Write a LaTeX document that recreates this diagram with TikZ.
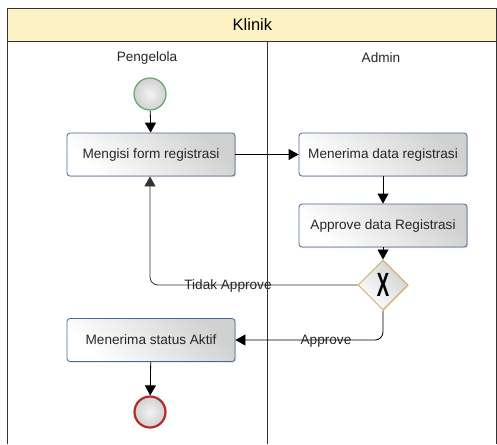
\documentclass[tikz,border=0pt]{standalone}
\usepackage{fontspec}
\setmainfont{Liberation Sans}
\usetikzlibrary{arrows.meta,shapes.geometric,shadows}
\definecolor{hdr}{HTML}{FCF2C4}
\definecolor{boxline}{HTML}{4A66A0}
\definecolor{gwline}{HTML}{D2AE6A}
\definecolor{startline}{HTML}{5DAA62}
\definecolor{endline}{HTML}{B52A2A}
\definecolor{frame}{HTML}{333333}
\tikzset{
  task/.style={draw=boxline, line width=0.8pt, rounded corners=3pt, minimum width=168pt, minimum height=43pt,
    left color=white, right color=black!18, shading angle=135, inner sep=0pt,
    drop shadow={shadow xshift=1.2pt, shadow yshift=-1.2pt, opacity=0.25},
    font=\fontsize{13.6}{15}\selectfont, text=black!85},
  evstart/.style={circle, draw=startline, line width=1.2pt, minimum size=32pt, inner sep=0pt,
    inner color=black!5, outer color=black!18},
  evend/.style={circle, draw=endline, line width=2.2pt, minimum size=31pt, inner sep=0pt,
    inner color=black!5, outer color=black!18},
  gw/.style={diamond, draw=gwline, line width=1pt, minimum width=50pt, minimum height=50pt, inner sep=0pt,
    left color=white, right color=black!18, shading angle=135,
    drop shadow={shadow xshift=1pt, shadow yshift=-1pt, opacity=0.2}},
  flow/.style={-{Triangle[width=11pt,length=10pt]}, line width=0.8pt, black},
  lbl/.style={font=\fontsize{13.6}{15}\selectfont, inner sep=0pt, text=black!85},
}
\begin{document}
\begin{tikzpicture}[x=1pt,y=-1pt]
\useasboundingbox (0,0) rectangle (497,444);
\fill[white] (0,0) rectangle (497,444);
% pool header
\node[draw=frame, fill=hdr, line width=0.8pt, minimum width=490pt, minimum height=33pt, anchor=north west, inner sep=0pt, font=\fontsize{16.5}{18}\selectfont] (pool) at (7,8) {Klinik};
\draw[frame, line width=0.8pt] (7,41) -- (7,444);
\draw[frame, line width=0.8pt] (496.6,8) -- (496.6,444);
\draw[frame, line width=0.8pt] (267,41) -- (267,444);
\node[lbl] (lane1) at (147,58) {Pengelola};
\node[lbl] (lane2) at (381,58) {Admin};
% nodes
\node[evstart] (start) at (150,94) {};
\node[task] (t1) at (151,154.5) {Mengisi form registrasi};
\node[task] (t2) at (383,154.5) {Menerima data registrasi};
\node[task] (t3) at (383,225.5) {Approve data Registrasi};
\node[gw] (g) at (383,285) {};
\node[font=\fontsize{30}{30}\bfseries, xscale=0.62, yscale=1.12, inner sep=0pt] (gx) at (g.center) {X};
\node[task] (t4) at (151,340) {Menerima status Aktif};
\node[evend] (end) at (150,412) {};
% flows
\draw[flow] (start) -- (t1);
\draw[flow] (t1) -- (t2);
\draw[flow] (t2) -- (t3);
\draw[flow] (t3) -- (g);
\draw[flow, rounded corners=8pt, draw=black!80] (g.west) -- (150,285) -- (t1.south -| 150,0);
\node[lbl] (l1) at (228,285.5) {Tidak Approve};
\draw[flow, rounded corners=8pt] (g.south) -- (383,340) -- (t4.east);
\node[lbl] (l2) at (326,341) {Approve};
\draw[flow] (t4) -- (end);
\end{tikzpicture}
\end{document}
